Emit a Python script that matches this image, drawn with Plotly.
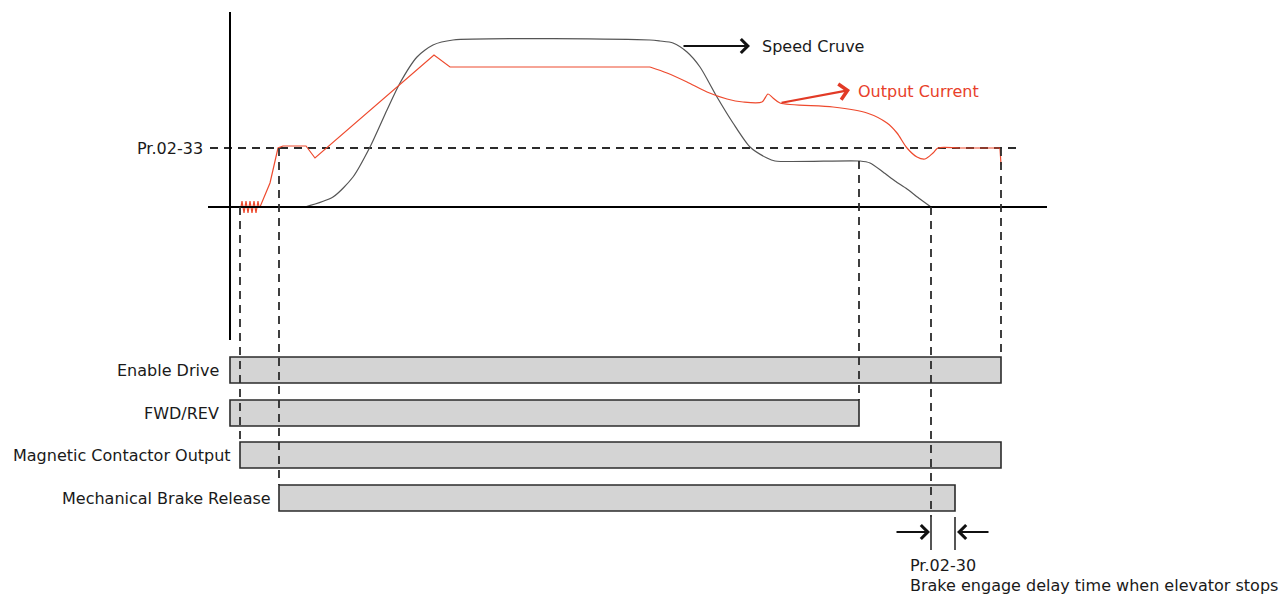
import plotly.graph_objects as go

# time axis: 0 = start of diagram (vertical axis); level: 0 = zero-speed line
speed_t = [75, 103, 123, 140, 157, 170, 187, 203, 223, 420, 430, 443, 457, 470, 487,
           503, 520, 537, 545, 630, 640, 653, 665, 677, 690, 701]
speed_lvl = [0, 10, 30, 60, 97, 124, 150, 162, 167, 167, 166, 164, 155, 140, 110,
             84, 60, 49, 46, 46, 44, 35, 26, 18, 8, 0]

# output current: start-up part (straight segments)
cur_up_t = [11, 12, 14, 16, 18, 20, 22, 24, 26, 28, 29, 30, 40, 48, 53, 76, 85, 204, 220, 420]
cur_up_lvl = [0, 6, -6, 6, -6, 6, -6, 6, -6, 6, 0, 0, 24, 59, 61, 61, 49, 152, 140, 140]
# output current: deceleration part (smooth)
cur_dn_t = [420, 437, 457, 477, 497, 513, 532, 538, 543, 550, 603, 637, 657, 667, 677,
            687, 695, 703, 708, 730, 770]
cur_dn_lvl = [140, 134, 125, 115, 108, 105, 105, 113, 109, 104, 100, 94, 84, 74, 59,
              50, 48, 54, 59, 59, 59]
# output current: switched off
cur_off_t = [770, 771]
cur_off_lvl = [59, 42]

pr_02_33 = 59

signals = ["Enable Drive", "FWD/REV", "Magnetic Contactor Output", "Mechanical Brake Release"]
sig_row = [-163, -206, -248, -291]
sig_on = [0, 0, 10, 49]
sig_off = [771, 629, 771, 725]

fnt = "DejaVu Sans"
dark = "#2b2b2b"
red = "#ee4a2e"

fig = go.Figure()

fig.add_trace(go.Bar(
    orientation="h", y=sig_row, base=sig_on,
    x=[b - a for a, b in zip(sig_on, sig_off)], width=26,
    marker=dict(color="#d4d4d4", line=dict(color=dark, width=1.6)),
    hoverinfo="skip"))

fig.add_trace(go.Scatter(x=speed_t, y=speed_lvl, mode="lines",
                         line=dict(color="#555555", width=1.2, shape="spline", smoothing=0.7)))
fig.add_trace(go.Scatter(x=cur_up_t, y=cur_up_lvl, mode="lines",
                         line=dict(color=red, width=1.2)))
fig.add_trace(go.Scatter(x=cur_dn_t, y=cur_dn_lvl, mode="lines",
                         line=dict(color=red, width=1.2, shape="spline", smoothing=0.8)))
fig.add_trace(go.Scatter(x=cur_off_t, y=cur_off_lvl, mode="lines",
                         line=dict(color=red, width=1.2)))

# axes of the speed diagram
fig.add_shape(type="line", x0=0, x1=0, y0=195, y1=-133, line=dict(color="black", width=2))
fig.add_shape(type="line", x0=-22, x1=817, y0=0, y1=0, line=dict(color="black", width=2))

dash = dict(color=dark, width=1.8, dash="8px,6px")
fig.add_shape(type="line", x0=-20, x1=788, y0=pr_02_33, y1=pr_02_33, line=dash, layer="below")
# dashed event markers
fig.add_shape(type="line", x0=sig_on[2], x1=sig_on[2], y0=0, y1=sig_row[2] + 13, line=dash)
fig.add_shape(type="line", x0=sig_on[3], x1=sig_on[3], y0=pr_02_33, y1=sig_row[3] + 13, line=dash)
fig.add_shape(type="line", x0=sig_off[1], x1=sig_off[1], y0=speed_lvl[19], y1=sig_row[1] + 13, line=dash)
fig.add_shape(type="line", x0=speed_t[-1], x1=speed_t[-1], y0=0, y1=-310, line=dash)
fig.add_shape(type="line", x0=sig_off[0], x1=sig_off[0], y0=pr_02_33, y1=sig_row[0] + 13, line=dash)

# Pr.02-30 delay markers
for t in [speed_t[-1], sig_off[3]]:
    fig.add_shape(type="line", x0=t, x1=t, y0=-310, y1=-343, line=dict(color=dark, width=1.6))

ann = []
ann.append(dict(x=-25, y=pr_02_33, text="Pr.02-33", xanchor="right", showarrow=False))
label_right = [-9, -9, 3, 43]
for name, row, xr in zip(signals, sig_row, label_right):
    ann.append(dict(x=xr, y=row, text=name, xanchor="right", showarrow=False))

arrow = dict(showarrow=True, text="", axref="x", ayref="y", arrowhead=4,
             arrowsize=1.5, arrowwidth=1.8)
ann.append(dict(arrow, x=520, y=161, ax=452, ay=161, arrowcolor="#111111"))
ann.append(dict(x=530, y=161, text="Speed Cruve", xanchor="left", showarrow=False))
ann.append(dict(arrow, x=620, y=117, ax=550, ay=104, arrowcolor="#e23a26", arrowwidth=2.2,
                arrowsize=1.4))
ann.append(dict(x=626, y=116, text="Output Current", xanchor="left", showarrow=False,
                font=dict(color="#e8402a", size=16, family=fnt)))
ann.append(dict(arrow, x=700, y=-325, ax=665, ay=-325, arrowcolor="#111111"))
ann.append(dict(arrow, x=727, y=-325, ax=760, ay=-325, arrowcolor="#111111"))
ann.append(dict(x=678, y=-358, text="Pr.02-30", xanchor="left", showarrow=False))
ann.append(dict(x=678, y=-378, text="Brake engage delay time when elevator stops",
                xanchor="left", showarrow=False))

# the page body adds an 8px margin, so the figure is 8px smaller and starts 8px in
fig.update_layout(
    width=1279, height=586,
    margin=dict(l=0, r=0, t=0, b=0),
    paper_bgcolor="white", plot_bgcolor="white",
    showlegend=False,
    font=dict(family=fnt, size=16, color="#1a1a1a"),
    annotations=ann,
    xaxis=dict(range=[-222, 1057], visible=False, fixedrange=True),
    yaxis=dict(range=[-387, 199], visible=False, fixedrange=True),
)

fig.write_html("out.html")
